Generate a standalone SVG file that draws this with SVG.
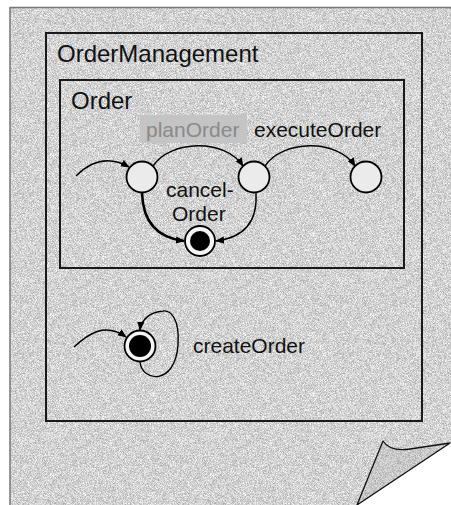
<svg xmlns="http://www.w3.org/2000/svg" width="451" height="505" viewBox="0 0 451 505">
  <style>
    .lbl { font-family: "Liberation Sans", Arial, sans-serif; font-size: 21px; fill: #111; }
    .ttl { font-family: "Liberation Sans", Arial, sans-serif; font-size: 24px; fill: #111; }
    .box { fill: none; stroke: #1a1a1a; stroke-width: 2; }
    .state { fill: #ebebeb; stroke: #000; stroke-width: 1.8; }
    .final-ring { fill: #f4f4f4; stroke: #000; stroke-width: 1.8; }
    .final-dot { fill: #000; }
    .edge { fill: none; stroke: #000; stroke-width: 1.4; marker-end: url(#arrow); }
    .edge.bold { stroke-width: 2.6; }
  </style>
  <defs>
    <!-- paper grain -->
    <filter id="grain" x="0" y="0" width="100%" height="100%" color-interpolation-filters="sRGB">
      <feTurbulence type="fractalNoise" baseFrequency="1.6" numOctaves="1" seed="3" result="n"/>
      <feColorMatrix in="n" type="matrix" values="0.65 0 0 0 0.5  0.65 0 0 0 0.5  0.65 0 0 0 0.5  0 0 0 0 1" result="g"/>
      <feComposite in="g" in2="SourceGraphic" operator="in"/>
    </filter>
    <filter id="grainDark" x="0" y="0" width="100%" height="100%" color-interpolation-filters="sRGB">
      <feTurbulence type="fractalNoise" baseFrequency="1.6" numOctaves="1" seed="7" result="n"/>
      <feColorMatrix in="n" type="matrix" values="0.55 0 0 0 0.51  0.55 0 0 0 0.51  0.55 0 0 0 0.51  0 0 0 0 1" result="g"/>
      <feComposite in="g" in2="SourceGraphic" operator="in"/>
    </filter>
    <marker id="arrow" viewBox="0 0 10 10" refX="9" refY="5" markerWidth="9" markerHeight="9" markerUnits="userSpaceOnUse" orient="auto">
      <path d="M0,1 L10,5 L0,9 Z" fill="#000"/>
    </marker>
  </defs>

  <!-- page sheet with curled corner -->
  <g id="page">
    <path d="M10,7 H451 V443 L357,505 H10 Z" fill="#cfcfcf" filter="url(#grain)"/>
    <path d="M10,505 V7.5 H451" fill="none" stroke="#777" stroke-width="1.5"/>
    <path d="M383,441 Q390,452 410,449 L450,443 L357,505 Z" fill="#c6c6c6" filter="url(#grainDark)"/>
    <path d="M383,441 Q390,452 410,449 L450,443 L357,505 Z" fill="none" stroke="#111" stroke-width="1.3" stroke-linejoin="round"/>
  </g>

  <!-- containers -->
  <g id="OrderManagement">
    <rect class="box" x="46" y="33" width="376" height="388"/>
    <text class="ttl" x="57" y="62">OrderManagement</text>
  </g>
  <g id="Order">
    <rect class="box" x="60" y="80" width="344" height="188"/>
    <text class="ttl" x="71" y="109">Order</text>
  </g>

  <!-- states -->
  <g id="s1"><circle class="state" cx="142" cy="177" r="15.5"/></g>
  <g id="s2"><circle class="state" cx="254" cy="177" r="15.5"/></g>
  <g id="s3"><circle class="state" cx="366" cy="177" r="15.5"/></g>
  <g id="orderFinal">
    <circle class="final-ring" cx="200" cy="241" r="15"/>
    <circle class="final-dot" cx="200" cy="241" r="10"/>
  </g>
  <g id="mgmtFinal">
    <circle class="final-ring" cx="140" cy="346" r="15.5"/>
    <circle class="final-dot" cx="140" cy="346" r="11"/>
  </g>

  <!-- transitions -->
  <g id="connectors">
    <path class="edge" d="M76,176 C89,163 106,154 129,167"/>
    <path class="edge" d="M153,166 C170,140 225,138 243,166"/>
    <path class="edge" d="M265,166 C282,140 337,138 355,166"/>
    <path class="edge bold" d="M142,193 C143,225 160,238 184,241"/>
    <path class="edge" d="M256,193 C258,225 240,238 216,241"/>
    <path class="edge" d="M74,347 C88,334 105,322 126,337"/>
    <path class="edge" d="M140,362 C142,382 175,386 178,345 C180,318 170,310 163,311 C150,312 141,320 140,330"/>
  </g>

  <!-- transition labels -->
  <g id="labels">
    <rect x="140" y="115" width="107" height="28" fill="#c4c4c4"/>
    <text class="lbl" x="146" y="137" style="fill:#8a8a8a">planOrder</text>
    <text class="lbl" x="254" y="137">executeOrder</text>
    <text class="lbl" x="166" y="197">cancel-</text>
    <text class="lbl" x="172" y="221">Order</text>
    <text class="lbl" x="193" y="353">createOrder</text>
  </g>
</svg>
